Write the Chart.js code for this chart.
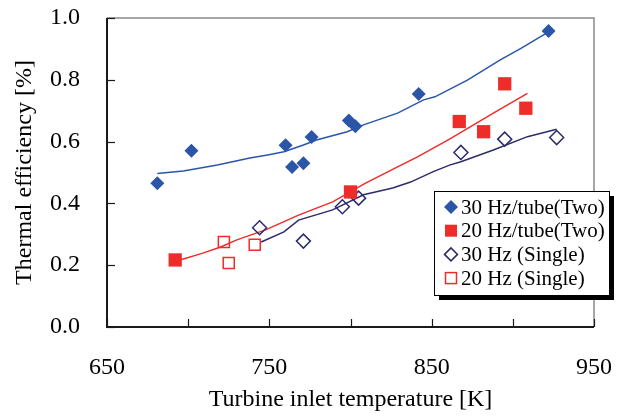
<!DOCTYPE html>
<html>
<head>
<meta charset="utf-8">
<script src="https://cdn.jsdelivr.net/npm/chart.js@4/dist/chart.umd.min.js"></script>
<style>
  body { margin: 0; background: #fff; }
  #wrap { width: 628px; height: 417px; }
</style>
</head>
<body>
<div id="wrap"><canvas id="myChart" width="628" height="417"></canvas></div>
<script>
// measured points
var blueTwoX = [681, 702, 760, 764, 771, 776, 799, 803, 842, 922];
var blueTwoY = [0.465, 0.570, 0.588, 0.518, 0.530, 0.615, 0.668, 0.650, 0.754, 0.958];

var redTwoX = [692, 800, 867, 882, 895, 908];
var redTwoY = [0.217, 0.437, 0.665, 0.632, 0.787, 0.708];

var navySingleX = [744, 771, 795, 805, 868, 895, 927];
var navySingleY = [0.321, 0.278, 0.389, 0.417, 0.565, 0.608, 0.613];

var redSingleX = [722, 725, 741];
var redSingleY = [0.275, 0.207, 0.266];

// fitted curves
var blueFitX = [681, 697, 718, 738, 749, 759, 771, 779, 798, 808, 829, 845, 852, 872, 892, 905, 921];
var blueFitY = [0.497, 0.505, 0.524, 0.547, 0.557, 0.567, 0.589, 0.605, 0.632, 0.654, 0.692, 0.735, 0.745, 0.799, 0.864, 0.902, 0.952];

var redFitX = [695, 709, 720, 730, 748, 768, 789, 809, 829, 841, 861, 888, 909];
var redFitY = [0.217, 0.239, 0.259, 0.282, 0.315, 0.362, 0.405, 0.465, 0.518, 0.550, 0.608, 0.692, 0.756];

var navyFitX = [745, 759, 768, 789, 808, 826, 837, 851, 861, 868, 888, 909, 927];
var navyFitY = [0.275, 0.308, 0.346, 0.379, 0.428, 0.450, 0.469, 0.503, 0.524, 0.535, 0.573, 0.616, 0.640];

var legendLabels = ['30 Hz/tube(Two)', '20 Hz/tube(Two)', '30 Hz (Single)', '20 Hz (Single)'];

var BLUE = '#2b56a8';
var RED = '#ee2d2b';
var NAVY = '#2c2c6c';

function pts(xs, ys) {
  return xs.map(function(x, i) { return {x: x, y: ys[i]}; });
}

function drawMarker(ctx, kind, x, y) {
  ctx.save();
  if (kind == 0) {
    ctx.fillStyle = BLUE;
    ctx.beginPath();
    ctx.moveTo(x - 7, y); ctx.lineTo(x, y - 7); ctx.lineTo(x + 7, y); ctx.lineTo(x, y + 7);
    ctx.closePath(); ctx.fill();
  } else if (kind == 1) {
    ctx.fillStyle = RED;
    ctx.fillRect(x - 6, y - 6, 12, 12);
  } else if (kind == 2) {
    ctx.strokeStyle = NAVY; ctx.lineWidth = 1.5;
    ctx.beginPath();
    ctx.moveTo(x - 6.5, y); ctx.lineTo(x, y - 6.5); ctx.lineTo(x + 6.5, y); ctx.lineTo(x, y + 6.5);
    ctx.closePath(); ctx.stroke();
  } else {
    ctx.strokeStyle = RED; ctx.lineWidth = 1.5;
    ctx.strokeRect(x - 5.5, y - 5.5, 11, 11);
  }
  ctx.restore();
}

// no extra label padding, the layout padding does it
function noPad(s) {
  s.paddingTop = 0; s.paddingBottom = 0; s.paddingLeft = 0; s.paddingRight = 0;
}

var framePlugin = {
  id: 'frame',
  afterDraw: function(chart) {
    var ctx = chart.ctx, a = chart.chartArea;
    var xs = chart.scales.x, ys = chart.scales.y;
    ctx.save();
    ctx.strokeStyle = '#8a8a8a';
    ctx.lineWidth = 1.5;
    ctx.beginPath();
    ctx.moveTo(a.left, a.top); ctx.lineTo(a.right, a.top); ctx.lineTo(a.right, a.bottom);
    ctx.stroke();
    ctx.strokeStyle = '#1a1a1a';
    ctx.lineWidth = 2;
    ctx.beginPath();
    ctx.moveTo(a.left, a.top); ctx.lineTo(a.left, a.bottom); ctx.lineTo(a.right, a.bottom);
    ctx.stroke();
    ctx.lineWidth = 1.2;
    xs.ticks.forEach(function(t) {
      var px = Math.round(xs.getPixelForValue(t.value)) + 0.5;
      ctx.beginPath(); ctx.moveTo(px, a.bottom); ctx.lineTo(px, a.bottom - 8); ctx.stroke();
    });
    ys.ticks.forEach(function(t) {
      var py = Math.round(ys.getPixelForValue(t.value)) + 0.5;
      ctx.beginPath(); ctx.moveTo(a.left, py); ctx.lineTo(a.left + 8, py); ctx.stroke();
    });

    // legend box
    var bx = 434, by = 191, bw = 175, bh = 104;
    ctx.fillStyle = '#000';
    ctx.fillRect(bx + 5, by + 5, bw, bh);
    ctx.fillStyle = '#fff';
    ctx.fillRect(bx, by, bw, bh);
    ctx.strokeStyle = '#000';
    ctx.lineWidth = 1;
    ctx.strokeRect(bx + 0.5, by + 0.5, bw, bh);
    ctx.font = '21px "Liberation Serif"';
    ctx.fillStyle = '#000';
    ctx.textBaseline = 'middle';
    ctx.textAlign = 'left';
    legendLabels.forEach(function(lbl, i) {
      var ly = 207 + i * 23.7;
      drawMarker(ctx, i, 451, ly);
      ctx.fillText(lbl, 461, ly + 1);
    });
    ctx.restore();
  }
};

var ctx = document.getElementById('myChart').getContext('2d');
var myChart = new Chart(ctx, {
  type: 'scatter',
  data: {
    datasets: [
      { label: legendLabels[0], data: pts(blueTwoX, blueTwoY), pointStyle: 'rectRot',
        pointRadius: 7, backgroundColor: BLUE, borderColor: BLUE, borderWidth: 0 },
      { label: legendLabels[1], data: pts(redTwoX, redTwoY), pointStyle: 'rect',
        pointRadius: 9.4, backgroundColor: RED, borderColor: RED, borderWidth: 0 },
      { label: legendLabels[2], data: pts(navySingleX, navySingleY), pointStyle: 'rectRot',
        pointRadius: 7, backgroundColor: 'rgba(255,255,255,0)', borderColor: NAVY, borderWidth: 1.5 },
      { label: legendLabels[3], data: pts(redSingleX, redSingleY), pointStyle: 'rect',
        pointRadius: 7.8, backgroundColor: 'rgba(255,255,255,0)', borderColor: RED, borderWidth: 1.5 },
      { label: 'fit1', data: pts(blueFitX, blueFitY), showLine: true, pointRadius: 0,
        borderColor: BLUE, borderWidth: 1.5, fill: false },
      { label: 'fit2', data: pts(redFitX, redFitY), showLine: true, pointRadius: 0,
        borderColor: RED, borderWidth: 1.5, fill: false },
      { label: 'fit3', data: pts(navyFitX, navyFitY), showLine: true, pointRadius: 0,
        borderColor: NAVY, borderWidth: 1.5, fill: false }
    ]
  },
  options: {
    responsive: false,
    animation: false,
    devicePixelRatio: 1,
    layout: { padding: { top: 18, right: 34, left: 0, bottom: 0 } },
    plugins: { legend: { display: false }, tooltip: { enabled: false } },
    scales: {
      x: {
        type: 'linear', min: 650, max: 950,
        grid: { display: false, drawTicks: false },
        border: { display: false },
        ticks: {
          stepSize: 50, autoSkip: false, maxRotation: 0, padding: 26, color: '#000',
          font: { family: 'Liberation Serif', size: 24 },
          callback: function(v) { return v % 100 == 50 ? v : ''; }
        },
        title: { display: true, text: 'Turbine inlet temperature [K]', color: '#000',
          font: { family: 'Liberation Serif', size: 24 }, padding: { top: 0, bottom: 3 } },
        afterFit: function(s) { s.height = 90; noPad(s); }
      },
      y: {
        min: 0, max: 1,
        grid: { display: false, drawTicks: false },
        border: { display: false },
        ticks: {
          stepSize: 0.2, padding: 27, color: '#000',
          font: { family: 'Liberation Serif', size: 24 },
          callback: function(v) { return v.toFixed(1); }
        },
        title: { display: true, text: 'Thermal efficiency [%]', color: '#000',
          font: { family: 'Liberation Serif', size: 24 }, padding: { top: 10, bottom: 0 } },
        afterFit: function(s) { s.width = 107; noPad(s); }
      }
    }
  },
  plugins: [framePlugin]
});
</script>
</body>
</html>
